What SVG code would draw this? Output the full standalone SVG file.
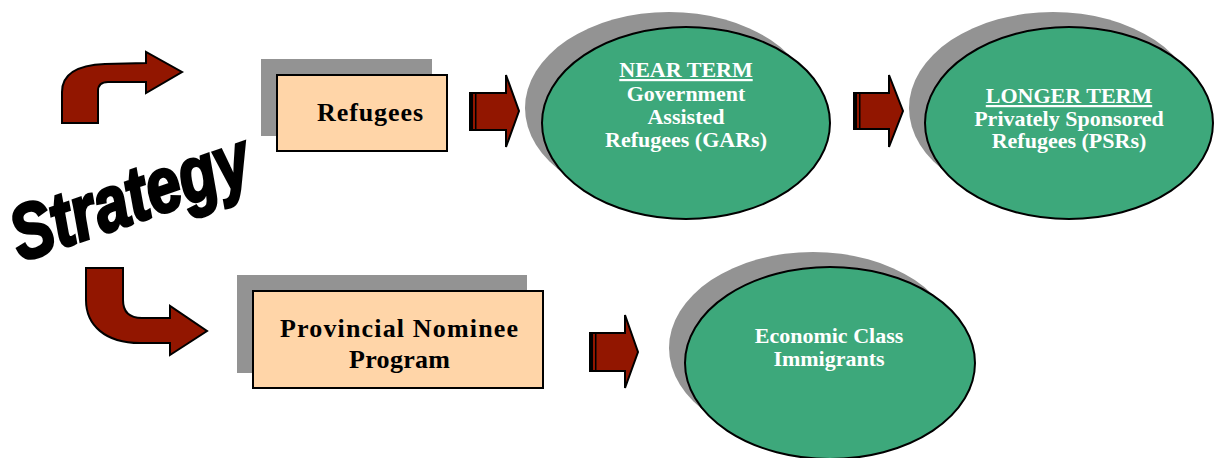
<svg xmlns="http://www.w3.org/2000/svg" width="1221" height="458" viewBox="0 0 1221 458">
<style>
.shadow{fill:#939393}
.box{fill:#FFD5A8;stroke:#000;stroke-width:2}
.oval{fill:#3DA87B;stroke:#000;stroke-width:2}
.arrow{fill:#921600;stroke:#000;stroke-width:2;stroke-linejoin:miter}
.btxt{font-family:"Liberation Serif",serif;font-weight:bold;font-size:26px;fill:#000}
.otxt{font-family:"Liberation Serif",serif;font-weight:bold;font-size:22px;fill:#fff;text-anchor:middle}
.strat{font-family:"Liberation Sans",Arial,sans-serif;font-weight:bold;font-style:italic;font-size:62px;fill:#000;stroke:#000;stroke-width:2.5}
</style>
<rect width="1221" height="458" fill="#fff"/>

<g id="strategy">
<text class="strat" transform="translate(21,262) rotate(-19) scale(1,1.25)">Strategy</text>
</g>

<g id="connectors">
<path class="arrow" d="M62,123 L62,92 C62,72 80,65 105,64 L146,63 L146,52 L182,72 L146,93 L146,82 L108,82 C101,82 98,85 98,91 L98,123 Z"/>
<path class="arrow" d="M86,268 L123,268 L123,300 C123,312 130,318 142,318 L170,318 L170,306 L207,331 L170,355 L170,343 L140,343 C105,343 86,325 86,300 Z"/>
<g id="arrow-refugees-near">
<path class="arrow" d="M470,93 L506,93 L506,75 L519,111 L506,147 L506,130 L470,130 Z"/>
<rect x="469" y="93" width="4" height="37" fill="#000"/>
<rect x="475" y="93" width="1.5" height="37" fill="#000"/>
</g>
<g id="arrow-near-longer">
<path class="arrow" d="M854,93 L889,93 L889,75 L903,111 L889,147 L889,129 L854,129 Z"/>
<rect x="853" y="93" width="4" height="36" fill="#000"/>
<rect x="859" y="93" width="1.5" height="36" fill="#000"/>
</g>
<g id="arrow-pnp-economic">
<path class="arrow" d="M590,333 L625,333 L625,315 L638,352 L625,388 L625,371 L590,371 Z"/>
<rect x="589" y="333" width="4" height="38" fill="#000"/>
<rect x="595" y="333" width="1.5" height="38" fill="#000"/>
</g>
</g>

<g id="refugees">
<rect class="shadow" x="261" y="59" width="171" height="77"/>
<rect class="box" x="277" y="75" width="170" height="76"/>
<text class="btxt" x="317" y="121" textLength="106" lengthAdjust="spacing">Refugees</text>
</g>

<g id="pnp">
<rect class="shadow" x="237" y="275" width="290" height="98"/>
<rect class="box" x="253" y="291" width="290" height="97"/>
<text class="btxt" x="280" y="337" textLength="238" lengthAdjust="spacing">Provincial Nominee</text>
<text class="btxt" x="349" y="368" textLength="101" lengthAdjust="spacing">Program</text>
</g>

<g id="near-term">
<ellipse class="shadow" cx="669" cy="108" rx="144" ry="96"/>
<ellipse class="oval" cx="686" cy="123" rx="144" ry="96"/>
<text class="otxt" x="686" y="77" text-decoration="underline">NEAR TERM</text>
<text class="otxt" x="686" y="101">Government</text>
<text class="otxt" x="686" y="124">Assisted</text>
<text class="otxt" x="686" y="147">Refugees (GARs)</text>
</g>

<g id="longer-term">
<ellipse class="shadow" cx="1053" cy="108" rx="144" ry="96"/>
<ellipse class="oval" cx="1069" cy="123" rx="144" ry="96"/>
<text class="otxt" x="1069" y="103" text-decoration="underline">LONGER TERM</text>
<text class="otxt" x="1069" y="126">Privately Sponsored</text>
<text class="otxt" x="1069" y="148">Refugees (PSRs)</text>
</g>

<g id="economic">
<ellipse class="shadow" cx="813" cy="348" rx="144" ry="96"/>
<ellipse class="oval" cx="830" cy="363" rx="145" ry="96"/>
<text class="otxt" x="829" y="343">Economic Class</text>
<text class="otxt" x="829" y="366">Immigrants</text>
</g>
</svg>
